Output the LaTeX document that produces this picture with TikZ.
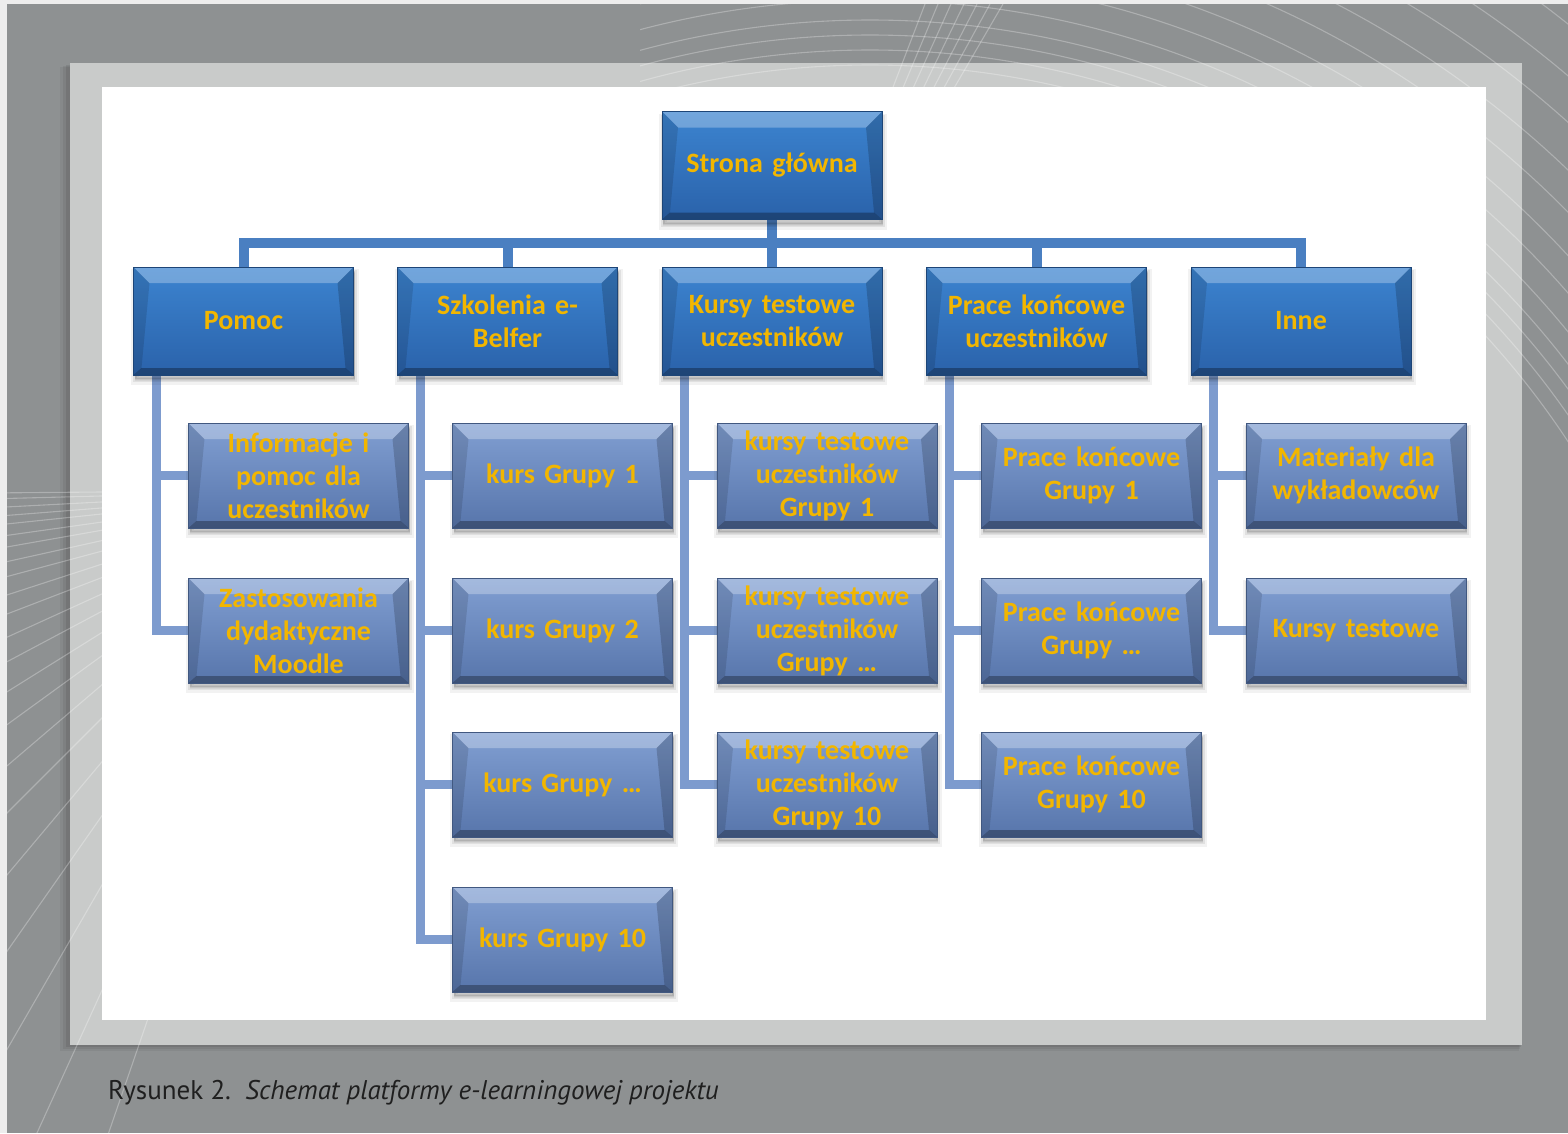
\documentclass[tikz,border=0pt]{standalone}
\usepackage{fontspec}
\setmainfont{Carlito}
\newfontfamily\capfont{PT Sans}
\usetikzlibrary{calc}
\pgfdeclarelayer{bg}
\pgfdeclarelayer{links}
\pgfsetlayers{bg,links,main}

\definecolor{pagegray}{HTML}{8E9192}
\definecolor{framegray}{HTML}{C9CBCA}
\definecolor{edgelight}{HTML}{EDEDED}
\definecolor{topblueA}{HTML}{3C84D0}
\definecolor{topblueB}{HTML}{2A62AA}
\definecolor{subblueA}{HTML}{819FD2}
\definecolor{subblueB}{HTML}{5775AB}
\definecolor{busblue}{HTML}{4A7FC1}
\definecolor{subline}{HTML}{7D9BCE}
\definecolor{gold}{HTML}{F2B600}

\tikzset{
  % soft shadow built from a few stacked translucent copies
  softshadow/.style={
    preaction={fill=black, draw=black, line width=8pt, opacity=.05,
      transform canvas={shift={(1pt,-6pt)}}},
    preaction={fill=black, draw=black, line width=4pt, opacity=.07,
      transform canvas={shift={(1pt,-5pt)}}},
    preaction={fill=black, opacity=.10, transform canvas={shift={(1pt,-4pt)}}}},
  bevel/.style={path picture={
    \fill[white,opacity=.28]
      (path picture bounding box.north west) -- (path picture bounding box.north east)
      -- ([shift={(-16pt,-16pt)}]path picture bounding box.north east)
      -- ([shift={(16pt,-16pt)}]path picture bounding box.north west) -- cycle;
    \fill[black,opacity=.30]
      (path picture bounding box.south west) -- (path picture bounding box.south east)
      -- ([shift={(-8pt,7pt)}]path picture bounding box.south east)
      -- ([shift={(8pt,7pt)}]path picture bounding box.south west) -- cycle;
    \fill[black,opacity=.12]
      (path picture bounding box.north west)
      -- ([shift={(16pt,-16pt)}]path picture bounding box.north west)
      -- ([shift={(8pt,7pt)}]path picture bounding box.south west)
      -- (path picture bounding box.south west) -- cycle;
    \fill[black,opacity=.18]
      (path picture bounding box.north east)
      -- ([shift={(-16pt,-16pt)}]path picture bounding box.north east)
      -- ([shift={(-8pt,7pt)}]path picture bounding box.south east)
      -- (path picture bounding box.south east) -- cycle;
  }},
  box/.style={rectangle, inner sep=0pt, minimum width=220pt, text width=214pt,
    align=center, text=gold, font=\bfseries\fontsize{28}{33}\selectfont, bevel,
    softshadow},
  topbox/.style={box, minimum height=108pt, top color=topblueA, bottom color=topblueB,
    draw=topblueB!70!black, line width=.8pt},
  subbox/.style={box, minimum height=105pt, top color=subblueA, bottom color=subblueB,
    draw=subblueB!75!black, line width=.8pt},
  bus/.style={draw=busblue, line width=10pt},
  sub/.style={draw=subline, line width=9pt},
  deco/.style={white, opacity=.28, line width=1.1pt},
}

\begin{document}
\begin{tikzpicture}[x=1pt, y=-1pt]
\useasboundingbox (0,0) rectangle (1568,1133);

% page, frame and panel
\begin{pgfonlayer}{bg}
  \fill[edgelight] (0,0) rectangle (1568,1133);
  \fill[pagegray] (7,4) rectangle (1568,1133);
  % soft shadow of the frame
  \foreach \s/\o in {10/.05,7/.06,4/.08}
    \fill[black,opacity=\o] (70-\s,63+\s*.4) rectangle (1522-\s*.3,1045+\s*.6);
  \fill[framegray] (70,63) rectangle (1522,1045);
  \begin{scope}
    \clip (7,4) rectangle (1568,1133);
    % fan of thin lines on the left
    \foreach \a in {180.5,181.5,183,184.5,186,188,190,192.5,195,198,201,204.5,
                    208,212,216,220.5,225,230,235,240,245.5,251}
      \draw[deco] (330,490) -- ++(\a:1400pt);
  \end{scope}
  \begin{scope}
    \clip (640,4) rectangle (1568,460);
    % sweeping arcs at the top right
    \foreach \r in {835,850,865,880,900,925,950,980,1010,1045,1080,1120}
      \draw[deco] (870,900) circle[radius=\r pt];
    \foreach \i in {0,...,6}
      \draw[deco] (890+\i*10,95) -- (925+\i*13,4);
  \end{scope}
  \fill[white] (102,87) rectangle (1486,1020);
\end{pgfonlayer}

% boxes
\node[topbox] (root) at (772,165.5) {Strona główna};

\node[topbox] (p1) at (243.5,321) {Pomoc};
\node[topbox] (p2) at (507.5,321) {Szkolenia e-\\Belfer};
\node[topbox] (p3) at (772,321) {Kursy testowe\\uczestników};
\node[topbox] (p4) at (1036.5,321) {Prace końcowe\\uczestników};
\node[topbox] (p5) at (1301,321) {Inne};

\node[subbox] (c11) at (298.5,475.5) {Informacje i\\pomoc dla\\uczestników};
\node[subbox] (c12) at (298.5,630.5) {Zastosowania\\dydaktyczne\\Moodle};

\node[subbox] (c21) at (562.5,475.5) {kurs Grupy 1};
\node[subbox] (c22) at (562.5,630.5) {kurs Grupy 2};
\node[subbox] (c23) at (562.5,784.5) {kurs Grupy \dots};
\node[subbox] (c24) at (562.5,939.5) {kurs Grupy 10};

\node[subbox] (c31) at (827,475.5) {kursy testowe\\uczestników\\Grupy 1};
\node[subbox] (c32) at (827,630.5) {kursy testowe\\uczestników\\Grupy \dots};
\node[subbox] (c33) at (827,784.5) {kursy testowe\\uczestników\\Grupy 10};

\node[subbox] (c41) at (1091.5,475.5) {Prace końcowe\\Grupy 1};
\node[subbox] (c42) at (1091.5,630.5) {Prace końcowe\\Grupy \dots};
\node[subbox] (c43) at (1091.5,784.5) {Prace końcowe\\Grupy 10};

\node[subbox] (c51) at (1356,475.5) {Materiały dla\\wykładowców};
\node[subbox] (c52) at (1356,630.5) {Kursy testowe};

% connectors
\begin{pgfonlayer}{links}
  \coordinate (busline) at (0,243);
  \draw[bus] (root.south) -- (root.south |- busline);
  \draw[bus] (p1.north) -- (p1.north |- busline) -- (p5.north |- busline) -- (p5.north);
  \foreach \n in {p2,p3,p4}
    \draw[bus] (\n.north) -- (\n.north |- busline);
  \foreach \p/\ks in {p1/{c11,c12}, p2/{c21,c22,c23,c24}, p3/{c31,c32,c33},
                      p4/{c41,c42,c43}, p5/{c51,c52}}
    \foreach \k in \ks
      \draw[sub] ($(\p.south west)+(23,0)$) |- (\k.west);
\end{pgfonlayer}

% caption
\node[anchor=base west, inner sep=0pt, text=black!88,
      font=\capfont\fontsize{27}{32}\selectfont] (caption) at (108,1099)
  {Rysunek 2.\ \ \textit{Schemat platformy e-learningowej projektu}};
\end{tikzpicture}
\end{document}
